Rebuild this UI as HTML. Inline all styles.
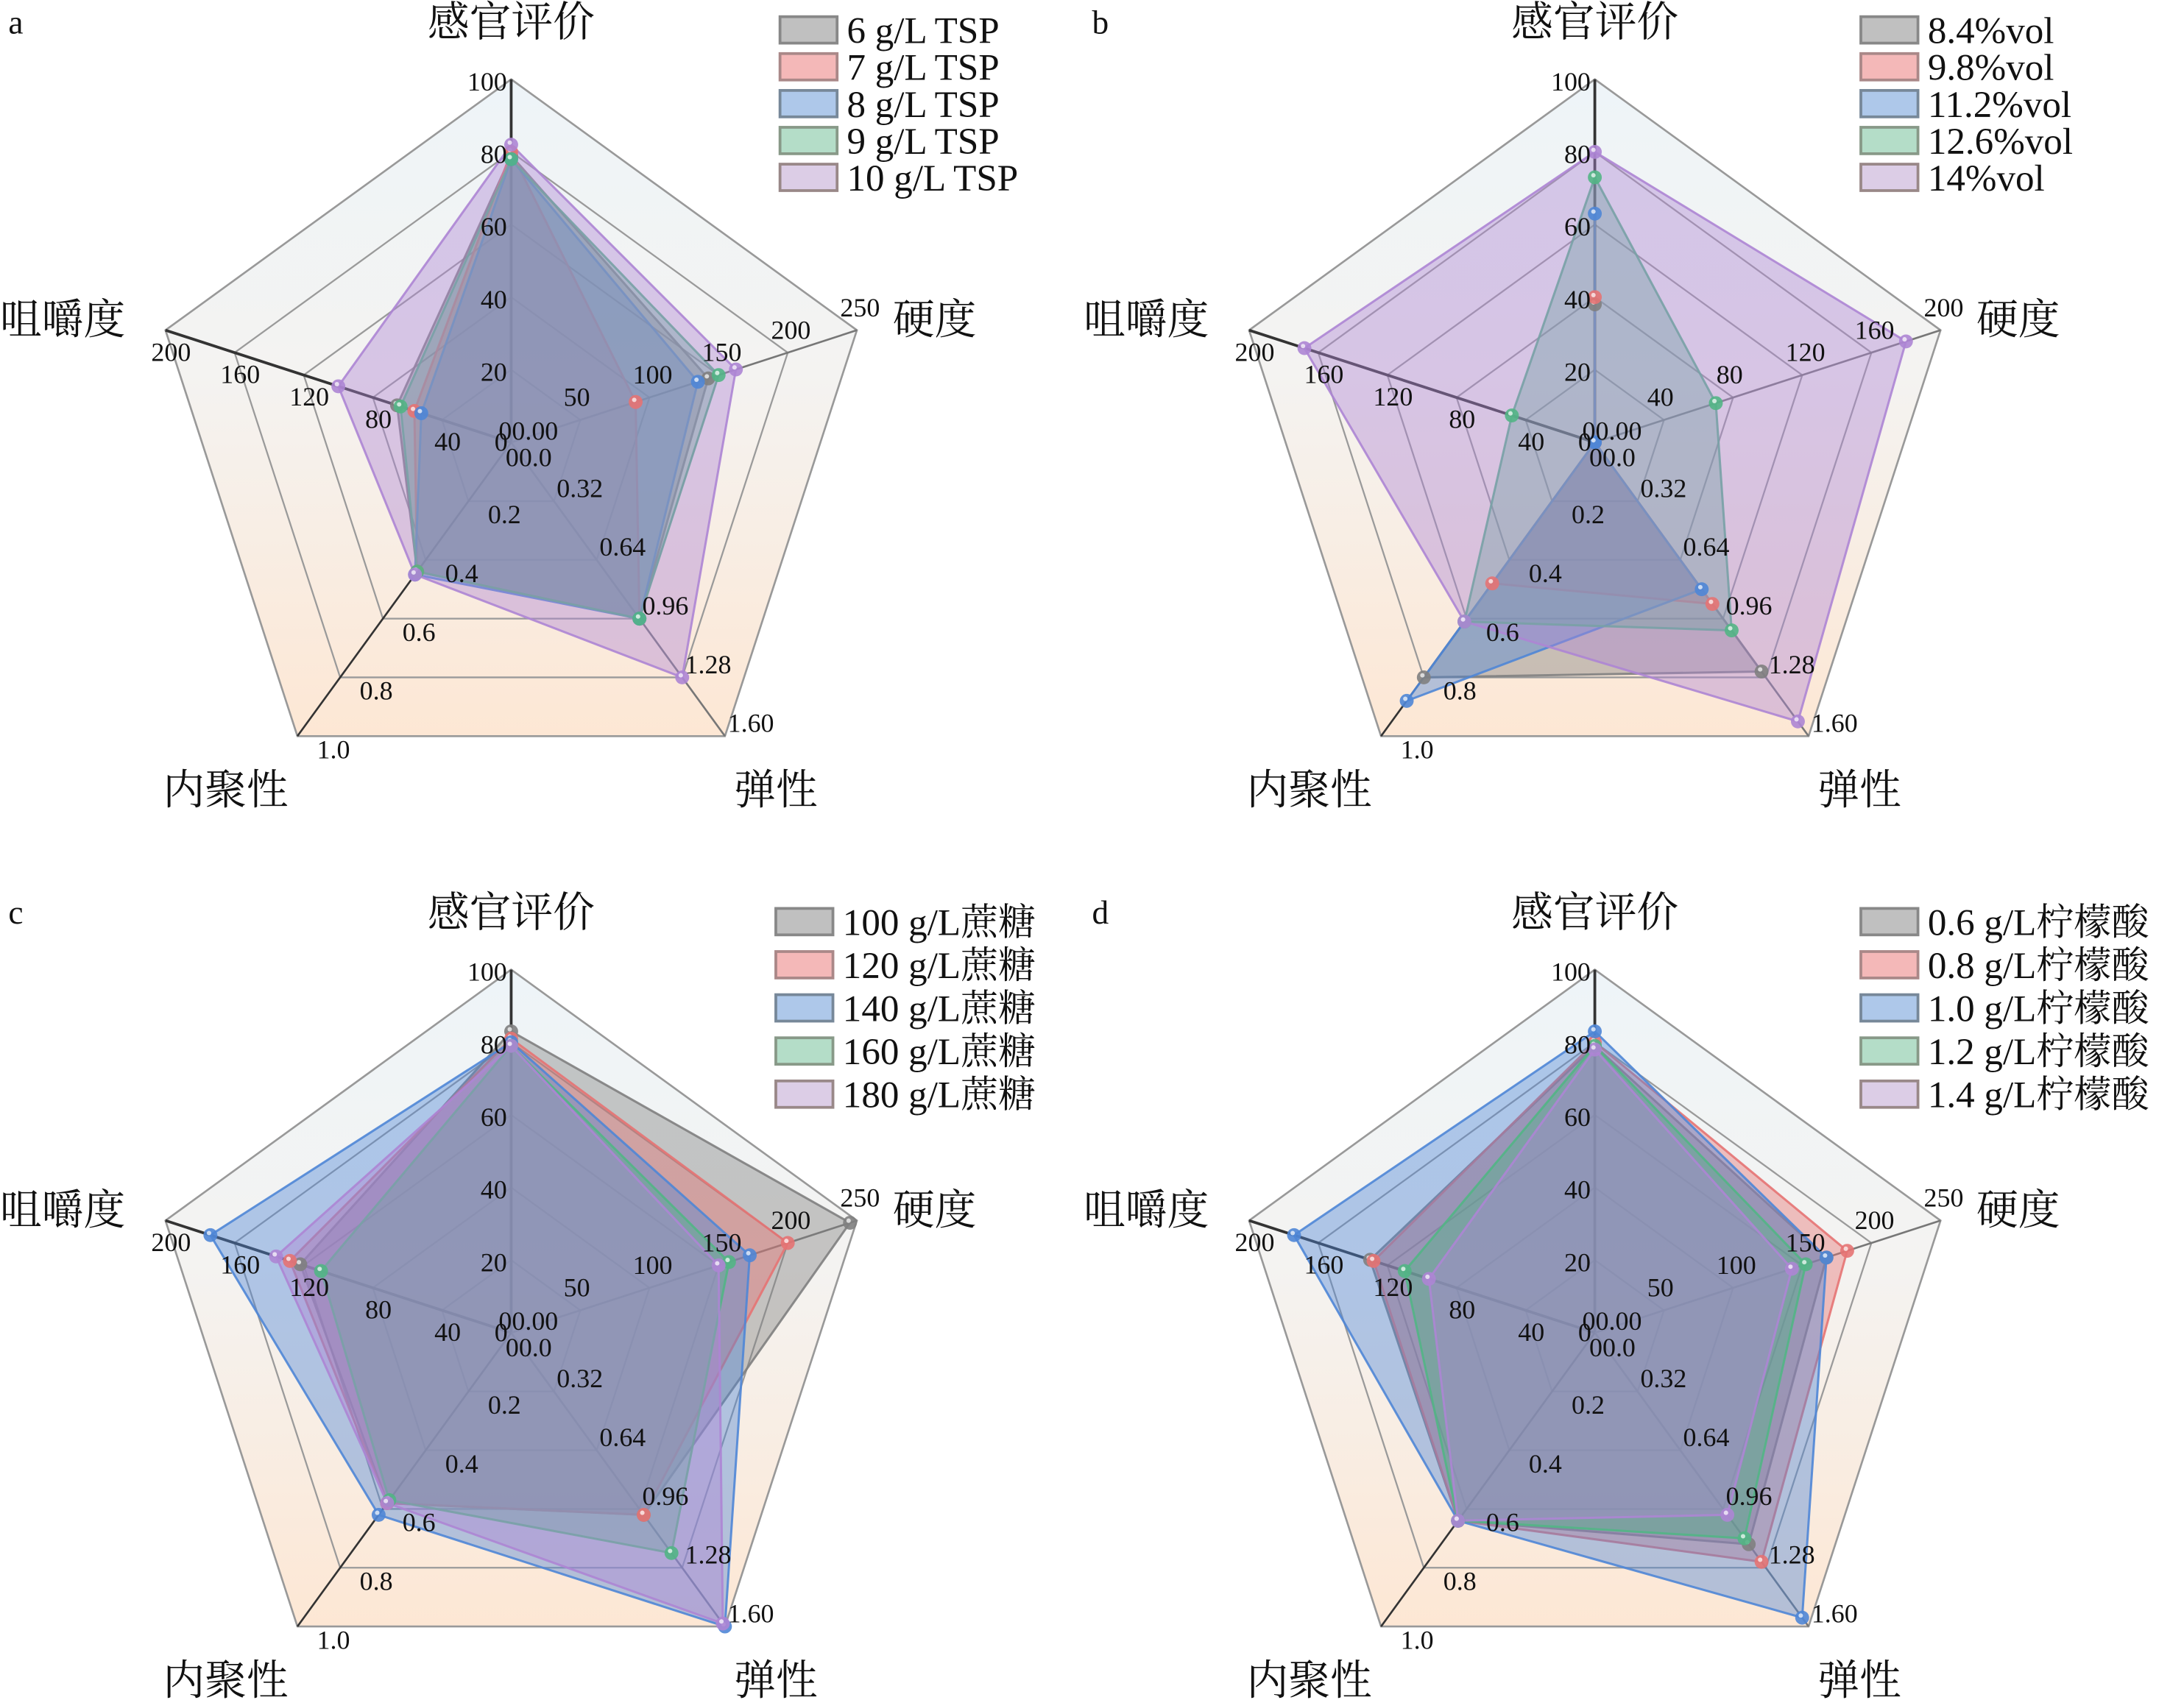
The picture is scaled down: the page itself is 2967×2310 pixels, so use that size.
<!DOCTYPE html>
<html><head><meta charset="utf-8">
<style>
html,body{margin:0;padding:0;background:#fff;}
svg{display:block;}
</style></head>
<body>
<svg id="s" width="2967" height="2310" viewBox="0 0 1568 1222" preserveAspectRatio="none" xmlns="http://www.w3.org/2000/svg" font-family="Liberation Serif, Noto Serif CJK SC, serif">
<defs>
<linearGradient id="bg" x1="0" y1="0" x2="0" y2="1">
<stop offset="0" stop-color="#eef4f8"/><stop offset="0.45" stop-color="#f4f3f1"/><stop offset="1" stop-color="#fde7d4"/>
</linearGradient>
</defs>
<text x="6" y="24" font-size="24" font-family="Liberation Serif, serif" fill="#111">a</text>
<text x="784" y="24" font-size="24" font-family="Liberation Serif, serif" fill="#111">b</text>
<text x="6" y="664" font-size="24" font-family="Liberation Serif, serif" fill="#111">c</text>
<text x="784" y="664" font-size="24" font-family="Liberation Serif, serif" fill="#111">d</text>
</svg>
<script>
const S=document.getElementById('s');const NS='http://www.w3.org/2000/svg';
const FL='Liberation Serif, Noto Serif CJK SC, serif';
const FC='Noto Serif CJK SC, Liberation Serif, serif';
function el(t,a,txt){const e=document.createElementNS(NS,t);for(const k in a)e.setAttribute(k,a[k]);if(txt!==undefined){e.textContent=txt;if(!a['font-family'])e.setAttribute('font-family',FL);e.setAttribute('fill','#111');}S.appendChild(e);return e;}
const R=261;
const dirs=[[0,-1],[0.951,-0.309],[0.588,0.809],[-0.588,0.809],[-0.951,-0.309]];
const cols=['#808080','#e57373','#4f86d6','#52b585','#ad85d4'];
function pt(cx,cy,i,f){return [cx+dirs[i][0]*R*f,cy+dirs[i][1]*R*f];}
function panel(cx,cy,hardT,chewT,data,leg,legY,legSp,legX){
  let p=[];for(let i=0;i<5;i++)p.push(pt(cx,cy,i,1).join(','));
  el('polygon',{points:p.join(' '),fill:'url(#bg)',stroke:'#999','stroke-width':1.4});
  for(let k=1;k<5;k++){let q=[];for(let i=0;i<5;i++)q.push(pt(cx,cy,i,k/5).join(','));
    el('polygon',{points:q.join(' '),fill:'none',stroke:'#9a9a9a','stroke-width':1.2});}
  for(let i=0;i<5;i++){const e=pt(cx,cy,i,1);
    el('line',{x1:cx,y1:cy,x2:e[0],y2:e[1],stroke:(i==0||i==4||i==3)?'#333':'#777','stroke-width':(i==0||i==4)?2:1.4});}
  data.forEach((d,j)=>{let q=d.map((f,i)=>pt(cx,cy,i,f).join(','));
    el('polygon',{points:q.join(' '),fill:cols[j],'fill-opacity':0.42,stroke:cols[j],'stroke-width':1.6,'stroke-opacity':0.9,'stroke-linejoin':'round'});});
  data.forEach((d,j)=>{d.forEach((f,i)=>{const c=pt(cx,cy,i,f);
    el('circle',{cx:c[0],cy:c[1],r:5,fill:cols[j],'fill-opacity':0.9});
    el('circle',{cx:c[0]-1,cy:c[1]-1.5,r:1.6,fill:'#fff','fill-opacity':0.7});});});
  const fs=19;
  ['20','40','60','80','100'].forEach((t,k)=>{el('text',{x:cx-3,y:cy-R*(k+1)/5+8,'font-size':fs,'text-anchor':'end'},t);});
  hardT.forEach((t,k)=>{const c=pt(cx,cy,1,(k+1)/5);el('text',{x:c[0]-12,y:c[1]-10,'font-size':fs},t);});
  ['0.32','0.64','0.96','1.28','1.60'].forEach((t,k)=>{const c=pt(cx,cy,2,(k+1)/5);el('text',{x:c[0]+2,y:c[1]-3,'font-size':fs},t);});
  ['0.2','0.4','0.6','0.8','1.0'].forEach((t,k)=>{const c=pt(cx,cy,3,(k+1)/5);el('text',{x:c[0]+14,y:c[1]+16,'font-size':fs},t);});
  chewT.forEach((t,k)=>{const c=pt(cx,cy,4,(k+1)/5);el('text',{x:c[0]+4,y:c[1]+22,'font-size':fs,'text-anchor':'middle'},t);});
  el('text',{x:cx-9,y:cy-2,'font-size':fs},'00.00');
  el('text',{x:cx-12,y:cy+6,'font-size':fs},'0');
  el('text',{x:cx-4,y:cy+17,'font-size':fs},'00.0');
  el('text',{x:cx,y:cy-292,'font-size':30,'text-anchor':'middle','font-family':FC},'感官评价');
  el('text',{x:cx+274,y:cy-78,'font-size':30,'font-family':FC},'硬度');
  el('text',{x:cx+190,y:cy+260,'font-size':30,'text-anchor':'middle','font-family':FC},'弹性');
  el('text',{x:cx-205,y:cy+260,'font-size':30,'text-anchor':'middle','font-family':FC},'内聚性');
  el('text',{x:cx-322,y:cy-78,'font-size':30,'text-anchor':'middle','font-family':FC},'咀嚼度');
  const lc=['#c0c0c0','#f4b8b8','#aec8ea','#b4ddc8','#dccde6'];
  const lb=['#888','#a88','#789','#898','#988'];
  leg.forEach((t,j)=>{const y=legY+j*legSp;
    el('rect',{x:legX,y:y,width:41,height:19,fill:lc[j],stroke:lb[j],'stroke-width':2});
    el('text',{x:legX+48,y:y+19,'font-size':27},t);});
}
panel(367,318,['50','100','150','200','250'],['40','80','120','160','200'],
 [[.79,.57,.60,.44,.33],[.80,.36,.60,.44,.28],[.78,.54,.60,.45,.26],[.78,.60,.60,.44,.32],[.82,.65,.80,.45,.50]],
 ['6 g/L TSP','7 g/L TSP','8 g/L TSP','9 g/L TSP','10 g/L TSP'],12,26.5,560);
panel(1145,318,['40','80','120','160','200'],['40','80','120','160','200'],
 [[.38,0,.78,.80,0],[.40,0,.55,.48,0],[.63,0,.50,.88,0],[.73,.35,.64,.61,.24],[.80,.90,.95,.61,.84]],
 ['8.4%vol','9.8%vol','11.2%vol','12.6%vol','14%vol'],12,26.5,1336);
panel(367,958,['50','100','150','200','250'],['40','80','120','160','200'],
 [[.83,.98,.62,.58,.61],[.81,.80,.62,.58,.64],[.80,.69,1.0,.62,.87],[.79,.63,.75,.57,.55],[.79,.60,.99,.58,.68]],
 ['100 g/L蔗糖','120 g/L蔗糖','140 g/L蔗糖','160 g/L蔗糖','180 g/L蔗糖'],653,31,557);
panel(1145,958,['50','100','150','200','250'],['40','80','120','160','200'],
 [[.79,.67,.72,.64,.65],[.80,.73,.78,.64,.64],[.83,.67,.97,.64,.87],[.79,.61,.70,.64,.55],[.78,.57,.62,.64,.48]],
 ['0.6 g/L柠檬酸','0.8 g/L柠檬酸','1.0 g/L柠檬酸','1.2 g/L柠檬酸','1.4 g/L柠檬酸'],653,31,1336);
</script>
</body></html>
